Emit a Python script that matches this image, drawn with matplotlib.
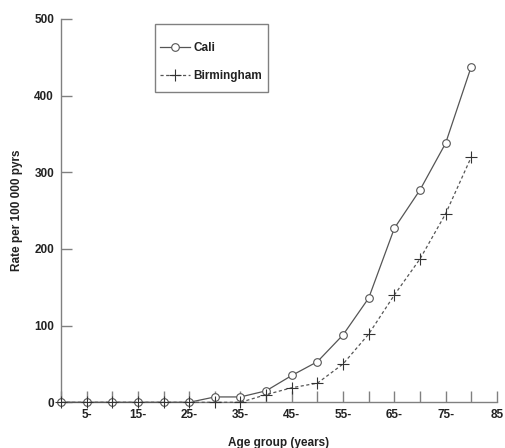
import matplotlib
matplotlib.use("Agg")
import matplotlib.pyplot as plt
from matplotlib.patches import Rectangle

# ── Data ──────────────────────────────────────────────────────────────────────
age        = [0, 5, 10, 15, 20, 25, 30, 35, 40, 45, 50, 55, 60, 65, 70, 75, 80]
cali       = [0, 0, 0, 0, 0, 0, 7, 7, 15, 35, 53, 88, 136, 227, 277, 338, 438]
birmingham = [0, 0, 0, 0, 0, 0, 0, 0, 10, 19, 25, 50, 89, 140, 187, 246, 320]

x_ticks     = list(range(0, 90, 5))
x_labels    = ["", "5-", "", "15-", "", "25-", "", "35-", "", "45-", "", "55-",
               "", "65-", "", "75-", "", "85"]
y_ticks     = [0, 100, 200, 300, 400, 500]

AXIS_GREY = "#808080"
LINE_GREY = "#555555"
TEXT_COL  = "#222222"
FS        = 8.5

plt.rcParams["font.family"] = ["Liberation Sans", "DejaVu Sans"]

fig = plt.figure(figsize=(5.05, 4.48), dpi=100)
ax = fig.add_axes([0.1208, 0.102, 0.8632, 0.8556])

ax.plot(age, cali, "-", color=LINE_GREY, lw=0.9, marker="o", ms=5.5,
        mfc="white", mec=LINE_GREY, mew=0.8, label="Cali", clip_on=False, zorder=3)
ax.plot(age, birmingham, "--", color=LINE_GREY, lw=0.9, dashes=(2.5, 2),
        marker="+", ms=8, mec="#333333", mew=0.8, label="Birmingham",
        clip_on=False, zorder=4)

ax.set_xlim(0, 85)
ax.set_ylim(0, 500)
ax.set_xticks(x_ticks)
ax.set_xticklabels(x_labels)
ax.set_yticks(y_ticks)

for side in ["top", "right"]:
    ax.spines[side].set_visible(False)
for side in ["left", "bottom"]:
    ax.spines[side].set_color(AXIS_GREY)
    ax.spines[side].set_linewidth(1.0)

ax.tick_params(axis="both", direction="in", length=8, width=1.0,
               color=AXIS_GREY, labelsize=FS)
ax.tick_params(axis="x", pad=5)
ax.tick_params(axis="y", pad=5)
for lab in ax.get_xticklabels() + ax.get_yticklabels():
    lab.set_fontweight("bold")
    lab.set_color(TEXT_COL)

ax.set_xlabel("Age group (years)", fontsize=FS, fontweight="bold",
              color=TEXT_COL, labelpad=11)
ax.set_ylabel("Rate per 100 000 pyrs", fontsize=FS, fontweight="bold",
              color=TEXT_COL, labelpad=8)

# legend entries without their own frame; the box is drawn separately
leg = ax.legend(loc="upper left", bbox_to_anchor=(0.226, 0.939),
                frameon=False, fontsize=FS,
                handlelength=2.55, borderpad=0, labelspacing=1.35,
                handletextpad=0.3, borderaxespad=0)
for t in leg.get_texts():
    t.set_fontweight("bold")
    t.set_color(TEXT_COL)

ax.add_patch(Rectangle((0.2156, 0.8096), 0.2592, 0.1774, transform=ax.transAxes,
                       fill=False, edgecolor=AXIS_GREY, lw=1.0, clip_on=False))

fig.savefig("out.png", dpi=100)
